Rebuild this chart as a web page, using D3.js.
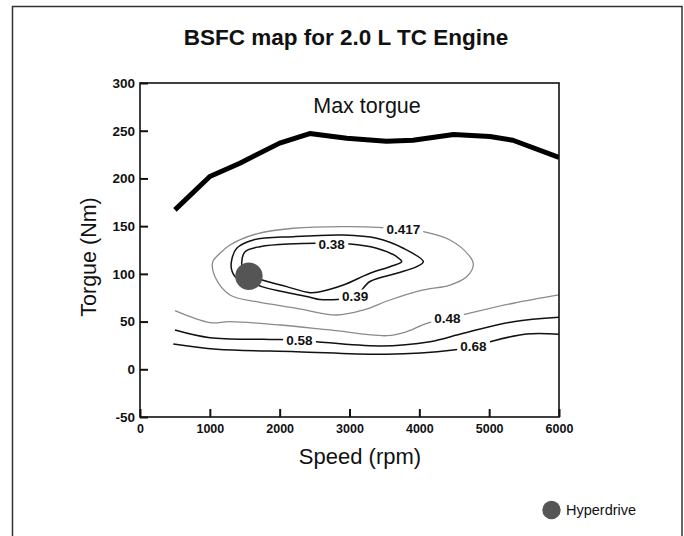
<!DOCTYPE html>
<html>
<head>
<meta charset="utf-8">
<script src="https://cdn.jsdelivr.net/npm/d3@7/dist/d3.min.js"></script>
<style>
  html, body { margin: 0; padding: 0; background: #fff; }
  svg { display: block; font-family: "Liberation Sans", Arial, sans-serif; }
</style>
</head>
<body>
<svg id="chart" width="684" height="536"></svg>
<script>
// ---------------- DATA ----------------
const chartTitle = "BSFC map for 2.0 L TC Engine";
const xTitle = "Speed (rpm)";
const yTitle = "Torgue (Nm)";
const maxTorqueLabel = "Max torgue";
const legendLabel = "Hyperdrive";

const speedTicks = [0, 1000, 2000, 3000, 4000, 5000, 6000];
const speedTickLabels = ["0", "1000", "2000", "3000", "4000", "5000", "6000"];
const torqueTicks = [-50, 0, 50, 100, 150, 200, 250, 300];
const torqueTickLabels = ["-50", "0", "50", "100", "150", "200", "250", "300"];

// Max torque curve [speed rpm, torque Nm]
const maxTorque = [
  [500, 167], [1000, 202], [1430, 216], [2000, 237], [2430, 247], [2960, 242],
  [3530, 239], [3910, 240], [4490, 246], [5010, 244], [5340, 240], [6000, 222]
];

// BSFC contour levels
const levels = ["0.417", "0.38", "0.39", "0.48", "0.58", "0.68"];

// Closed contours
const c0417 = [
  [1146, 121.6], [1289, 130.3], [1671, 142], [2195, 147.8], [3007, 149.5], [3770, 147],
  [4057, 144.2], [4439, 135.5], [4725, 118], [4773, 109.3], [4678, 97], [4439, 88.3],
  [4057, 83.1], [3580, 72.6], [3198, 62.1], [2817, 56.9], [2244, 63.9], [1671, 70.8],
  [1289, 77.9], [1074, 97], [1040, 112]
];
const c038 = [
  [1456, 111], [1504, 123.2], [1718, 128.5], [2530, 132], [2745, 131], [3007, 131.3],
  [3389, 126.8], [3676, 118], [3747, 112.8], [3580, 107.5], [3293, 100.6], [2912, 88.3],
  [2578, 81.3], [2434, 80.3], [2100, 86.6], [1718, 94.3], [1575, 98.8], [1480, 104]
];
const c039 = [
  [1313, 104], [1313, 114.5], [1385, 126.8], [1623, 135.5], [2195, 139], [2912, 140.7],
  [3389, 137.3], [3771, 126.8], [4057, 112.8], [3962, 107.5], [3676, 100.6], [3293, 92],
  [3080, 77], [2578, 73], [2434, 75.5], [2052, 81.3], [1743, 86.6], [1575, 91.8], [1385, 95.4]
];
// Open contours
const c048 = [
  [501, 61.4], [1002, 48.9], [1289, 49.9], [2005, 46.4], [2721, 41.2], [3532, 35.2],
  [3819, 39.4], [4106, 48.2], [4401, 53], [4678, 58], [5346, 69.2], [6000, 77.9]
];
const c058 = [
  [501, 41.2], [1002, 33.1], [1766, 31.4], [2281, 30.5], [2530, 28.9], [3437, 24.4],
  [4153, 28.9], [4630, 37.7], [5346, 49.9], [6000, 54.5]
];
const c068 = [
  [477, 26.5], [1098, 21], [2244, 18.4], [3532, 15.7], [4487, 20.2], [4773, 23.7],
  [5011, 28.9], [5537, 37], [6000, 36.7]
];

const contourPaths = [c0417, c038, c039, c048, c058, c068];
const contourClosed = [true, true, true, false, false, false];
const contourGray = [true, false, false, true, false, false];
// label centers [speed, torque]
const labelPos = [[3770, 147], [2745, 131], [3080, 77], [4401, 53], [2281, 30.5], [4773, 23.7]];

// Hyperdrive operating point
const hyperdrive = [[1560, 97.5]];

// ---------------- LAYOUT ----------------
const svg = d3.select("#chart");
const plot = { left: 140, right: 559, top: 83, bottom: 417 };
const x = d3.scaleLinear().domain([0, 6000]).range([plot.left, plot.right]);
const y = d3.scaleLinear().domain([-50, 300]).range([plot.bottom, plot.top]);

// outer frame
svg.append("rect")
  .attr("x", 12.5).attr("y", 6.5).attr("width", 669.5).attr("height", 560)
  .attr("fill", "none").attr("stroke", "#333").attr("stroke-width", 1.5);

// title
svg.append("text")
  .attr("x", 346).attr("y", 45).attr("text-anchor", "middle")
  .attr("font-size", 22.5).attr("font-weight", "bold").attr("fill", "#111")
  .text(chartTitle);

// clip
svg.append("clipPath").attr("id", "clip").append("rect")
  .attr("x", plot.left).attr("y", plot.top)
  .attr("width", plot.right - plot.left).attr("height", plot.bottom - plot.top);

const g = svg.append("g").attr("clip-path", "url(#clip)");

const lineOpen = d3.line().x(d => x(d[0])).y(d => y(d[1])).curve(d3.curveCatmullRom.alpha(0.5));
const lineClosed = d3.line().x(d => x(d[0])).y(d => y(d[1])).curve(d3.curveCatmullRomClosed.alpha(0.5));
const lineLin = d3.line().x(d => x(d[0])).y(d => y(d[1]));

// contours
contourPaths.forEach((pts, i) => {
  g.append("path")
    .attr("d", contourClosed[i] ? lineClosed(pts) : lineOpen(pts))
    .attr("fill", "none")
    .attr("stroke", contourGray[i] ? "#8a8a8a" : "#111")
    .attr("stroke-width", contourGray[i] ? 1.3 : 1.5);
});

// max torque
g.append("path")
  .attr("d", lineLin(maxTorque))
  .attr("fill", "none").attr("stroke", "#000")
  .attr("stroke-width", 5).attr("stroke-linejoin", "round");

// contour labels
levels.forEach((lab, i) => {
  const lg = svg.append("g").attr("transform", `translate(${x(labelPos[i][0])},${y(labelPos[i][1])})`);
  const t = lg.append("text")
    .attr("text-anchor", "middle").attr("dy", "0.35em")
    .attr("font-size", 13.5).attr("font-weight", "bold").attr("fill", "#111")
    .text(lab);
  const bb = t.node().getBBox();
  lg.insert("rect", "text")
    .attr("x", bb.x - 3).attr("y", bb.y + 1).attr("width", bb.width + 6).attr("height", bb.height - 2)
    .attr("fill", "#fff");
});

// Max torque label
svg.append("text")
  .attr("x", 367).attr("y", 113).attr("text-anchor", "middle")
  .attr("font-size", 21.5).attr("fill", "#111")
  .text(maxTorqueLabel);

// hyperdrive point
svg.append("g").selectAll("circle").data(hyperdrive).join("circle")
  .attr("cx", d => x(d[0])).attr("cy", d => y(d[1])).attr("r", 13.7)
  .attr("fill", "#555");

// axes
const xAxis = d3.axisBottom(x).tickValues(speedTicks)
  .tickFormat((d, i) => speedTickLabels[i])
  .tickSize(-8).tickSizeOuter(0).tickPadding(7);
const yAxis = d3.axisLeft(y).tickValues(torqueTicks)
  .tickFormat((d, i) => torqueTickLabels[i])
  .tickSize(-8).tickSizeOuter(0).tickPadding(5);

const gx = svg.append("g").attr("transform", `translate(0,${plot.bottom})`).call(xAxis);
const gy = svg.append("g").attr("transform", `translate(${plot.left},0)`).call(yAxis);
[gx, gy].forEach(a => {
  a.select(".domain").remove();
  a.selectAll(".tick line").attr("stroke", "#111").attr("stroke-width", 2);
  a.selectAll(".tick text").attr("font-weight", "bold").attr("fill", "#111")
    .attr("font-family", "'Liberation Sans', Arial, sans-serif");
});
gx.selectAll(".tick text").attr("font-size", 12.5);
gy.selectAll(".tick text").attr("font-size", 13.5);

// plot frame
svg.append("rect")
  .attr("x", plot.left).attr("y", plot.top)
  .attr("width", plot.right - plot.left).attr("height", plot.bottom - plot.top)
  .attr("fill", "none").attr("stroke", "#111").attr("stroke-width", 1.6);

// axis titles
svg.append("text")
  .attr("x", 360).attr("y", 463.5).attr("text-anchor", "middle")
  .attr("font-size", 22).attr("fill", "#111")
  .text(xTitle);
svg.append("text")
  .attr("transform", "translate(96,257) rotate(-90)").attr("text-anchor", "middle")
  .attr("font-size", 21.5).attr("fill", "#111")
  .text(yTitle);

// legend
svg.append("circle").attr("cx", 551.5).attr("cy", 510).attr("r", 9.2).attr("fill", "#555");
svg.append("text").attr("x", 566).attr("y", 515).attr("font-size", 14.5).attr("fill", "#111")
  .text(legendLabel);
</script>
</body>
</html>
